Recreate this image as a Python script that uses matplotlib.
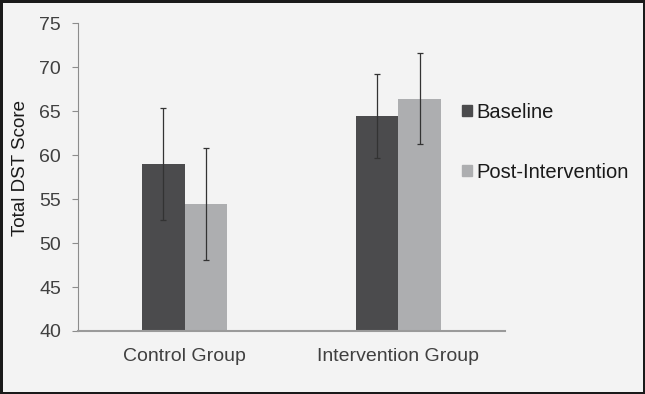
import matplotlib.pyplot as plt
import numpy as np
from matplotlib.patches import Patch

plt.rcParams['font.family'] = ['Liberation Sans', 'DejaVu Sans']

groups = ['Control Group', 'Intervention Group']
series = ['Baseline', 'Post-Intervention']
baseline = [59.0, 64.45]
post = [54.45, 66.45]
baseline_err = [6.4, 4.8]
post_err = [6.35, 5.15]

dark = '#4b4b4d'
light = '#adaeb0'
txt = '#404040'

fig = plt.figure(figsize=(6.45, 3.94), dpi=100, facecolor='#f3f3f3',
                 edgecolor='#1a1a1a', linewidth=2.5)
ax = fig.add_axes([0.121, 0.16, 0.662, 0.7806])
ax.set_facecolor('#f3f3f3')

x = np.arange(len(groups))
w = 0.2
err_kw = dict(ecolor='#333333', elinewidth=0.9, capsize=2.5, capthick=0.9)
ax.bar(x - w / 2, baseline, w, yerr=baseline_err, color=dark, error_kw=err_kw,
       zorder=2)
ax.bar(x + w / 2, post, w, yerr=post_err, color=light, error_kw=err_kw,
       zorder=2)

ax.set_xlim(-0.5, 1.5)
ax.set_ylim(40, 75)
ax.set_yticks(np.arange(40, 76, 5))
ax.set_xticks(x)
ax.set_xticklabels(groups)

for s in ['top', 'right']:
    ax.spines[s].set_visible(False)
ax.spines['left'].set_color('#8c8c8c')
ax.spines['bottom'].set_color('#9a9a9a')
ax.spines['bottom'].set_linewidth(1.5)

ax.tick_params(axis='y', length=4.3, color='#8c8c8c', pad=8, labelsize=14,
               labelcolor=txt)
ax.tick_params(axis='x', length=0, pad=12.5, labelsize=14, labelcolor=txt)

ax.set_ylabel('Total DST Score', fontsize=13.5, color='#1a1a1a')
ax.yaxis.set_label_coords(-0.114, 0.53)

handles = [Patch(color=dark), Patch(color=light)]
fig.legend(handles, series, loc='center left', bbox_to_anchor=(0.716, 0.639),
           frameon=False, fontsize=14.5, handlelength=0.5, handleheight=0.5,
           handletextpad=0.2, labelspacing=2.05, borderpad=0, borderaxespad=0,
           labelcolor='#1a1a1a')

fig.savefig('out.png', dpi=100, facecolor=fig.get_facecolor(),
            edgecolor=fig.get_edgecolor())
